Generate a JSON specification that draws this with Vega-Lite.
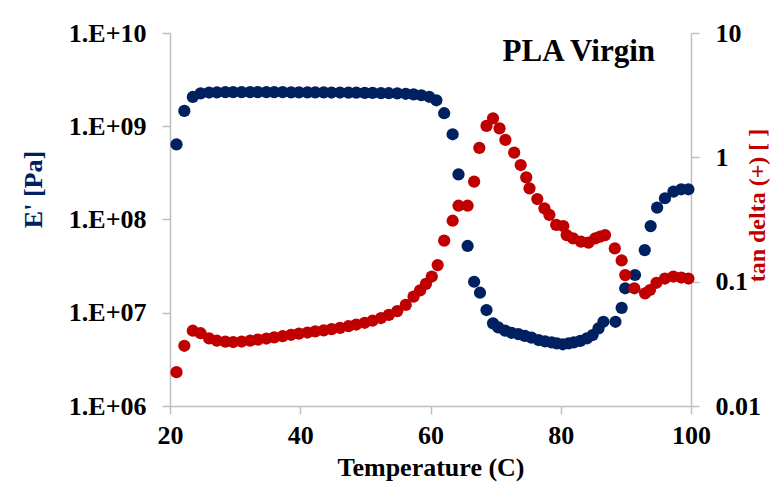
{
  "$schema": "https://vega.github.io/schema/vega-lite/v6.json",
  "autosize": {"type": "none"},
  "padding": {"left": 170, "top": 33, "right": 79, "bottom": 80},
  "width": 521,
  "height": 373,
  "background": "white",
  "title": {"text": "PLA Virgin", "anchor": "end", "frame": "group", "orient": "top", "offset": -48, "dx": -36, "font": "Liberation Serif", "fontSize": 31, "fontWeight": "bold", "color": "black"},
  "datasets": {
    "E": [
      {"T": 21.0, "E": 6.4e8}, {"T": 22.2, "E": 1.46e9}, {"T": 23.5, "E": 2.06e9}, {"T": 24.7, "E": 2.25e9},
      {"T": 26.0, "E": 2.30e9}, {"T": 27.2, "E": 2.31e9}, {"T": 28.5, "E": 2.32e9}, {"T": 29.7, "E": 2.32e9},
      {"T": 31.0, "E": 2.32e9}, {"T": 32.3, "E": 2.32e9}, {"T": 33.5, "E": 2.32e9}, {"T": 34.8, "E": 2.32e9},
      {"T": 36.0, "E": 2.32e9}, {"T": 37.3, "E": 2.32e9}, {"T": 38.6, "E": 2.31e9}, {"T": 39.8, "E": 2.31e9},
      {"T": 41.1, "E": 2.31e9}, {"T": 42.3, "E": 2.31e9}, {"T": 43.6, "E": 2.31e9}, {"T": 44.8, "E": 2.30e9},
      {"T": 46.1, "E": 2.30e9}, {"T": 47.4, "E": 2.29e9}, {"T": 48.6, "E": 2.29e9}, {"T": 49.9, "E": 2.28e9},
      {"T": 51.1, "E": 2.28e9}, {"T": 52.4, "E": 2.27e9}, {"T": 53.6, "E": 2.26e9}, {"T": 54.9, "E": 2.25e9},
      {"T": 56.2, "E": 2.23e9}, {"T": 57.4, "E": 2.20e9}, {"T": 58.6, "E": 2.15e9}, {"T": 59.8, "E": 2.07e9},
      {"T": 60.9, "E": 1.90e9}, {"T": 62.1, "E": 1.38e9}, {"T": 63.4, "E": 8.2e8}, {"T": 64.3, "E": 3.05e8},
      {"T": 65.7, "E": 5.2e7}, {"T": 66.7, "E": 2.15e7}, {"T": 67.6, "E": 1.64e7}, {"T": 68.6, "E": 1.07e7},
      {"T": 69.6, "E": 7.7e6}, {"T": 70.4, "E": 6.98e6}, {"T": 71.45, "E": 6.43e6}, {"T": 72.45, "E": 6.1e6},
      {"T": 73.5, "E": 5.9e6}, {"T": 74.5, "E": 5.64e6}, {"T": 75.5, "E": 5.41e6}, {"T": 76.6, "E": 5.1e6},
      {"T": 77.6, "E": 4.94e6}, {"T": 78.6, "E": 4.82e6}, {"T": 79.4, "E": 4.7e6}, {"T": 80.3, "E": 4.59e6},
      {"T": 81.2, "E": 4.7e6}, {"T": 82.0, "E": 4.82e6}, {"T": 83.0, "E": 5.0e6}, {"T": 84.0, "E": 5.32e6},
      {"T": 84.9, "E": 5.77e6}, {"T": 85.8, "E": 6.8e6}, {"T": 86.55, "E": 8.0e6}, {"T": 88.4, "E": 8.0e6},
      {"T": 89.35, "E": 1.13e7}, {"T": 89.9, "E": 1.83e7}, {"T": 91.4, "E": 2.54e7}, {"T": 92.9, "E": 4.7e7},
      {"T": 93.8, "E": 8.5e7}, {"T": 94.8, "E": 1.34e8}, {"T": 96.0, "E": 1.69e8}, {"T": 97.3, "E": 1.99e8},
      {"T": 98.5, "E": 2.11e8}, {"T": 99.6, "E": 2.11e8}
    ],
    "tan": [
      {"T": 21.0, "tan": 0.0187}, {"T": 22.2, "tan": 0.0305}, {"T": 23.5, "tan": 0.0403}, {"T": 24.7, "tan": 0.0385},
      {"T": 26.0, "tan": 0.0350}, {"T": 27.2, "tan": 0.0335}, {"T": 28.5, "tan": 0.0329}, {"T": 29.7, "tan": 0.0327},
      {"T": 31.0, "tan": 0.0330}, {"T": 32.3, "tan": 0.0335}, {"T": 33.5, "tan": 0.0342}, {"T": 34.8, "tan": 0.0349},
      {"T": 36.0, "tan": 0.0356}, {"T": 37.3, "tan": 0.0364}, {"T": 38.6, "tan": 0.0374}, {"T": 39.8, "tan": 0.0382},
      {"T": 41.1, "tan": 0.0390}, {"T": 42.3, "tan": 0.0398}, {"T": 43.6, "tan": 0.0406}, {"T": 44.8, "tan": 0.0415},
      {"T": 46.1, "tan": 0.0425}, {"T": 47.4, "tan": 0.0438}, {"T": 48.6, "tan": 0.0452}, {"T": 49.9, "tan": 0.0467},
      {"T": 51.1, "tan": 0.0485}, {"T": 52.4, "tan": 0.0510}, {"T": 53.6, "tan": 0.0540}, {"T": 54.9, "tan": 0.0580},
      {"T": 56.2, "tan": 0.0650}, {"T": 57.4, "tan": 0.0757}, {"T": 58.4, "tan": 0.0850}, {"T": 59.3, "tan": 0.0960},
      {"T": 60.2, "tan": 0.110}, {"T": 61.1, "tan": 0.136}, {"T": 62.1, "tan": 0.214}, {"T": 63.4, "tan": 0.309},
      {"T": 64.3, "tan": 0.408}, {"T": 65.7, "tan": 0.408}, {"T": 66.7, "tan": 0.637}, {"T": 67.5, "tan": 1.19},
      {"T": 68.6, "tan": 1.79}, {"T": 69.6, "tan": 2.06}, {"T": 70.6, "tan": 1.71}, {"T": 71.5, "tan": 1.38},
      {"T": 72.85, "tan": 1.09}, {"T": 73.85, "tan": 0.867}, {"T": 74.7, "tan": 0.69}, {"T": 75.2, "tan": 0.563},
      {"T": 76.4, "tan": 0.462}, {"T": 77.5, "tan": 0.389}, {"T": 78.25, "tan": 0.344}, {"T": 79.3, "tan": 0.286},
      {"T": 80.4, "tan": 0.28}, {"T": 80.9, "tan": 0.237}, {"T": 81.9, "tan": 0.223}, {"T": 83.1, "tan": 0.210},
      {"T": 84.25, "tan": 0.206}, {"T": 85.3, "tan": 0.223}, {"T": 86.05, "tan": 0.230}, {"T": 86.8, "tan": 0.237},
      {"T": 88.3, "tan": 0.185}, {"T": 89.35, "tan": 0.148}, {"T": 89.9, "tan": 0.113}, {"T": 91.3, "tan": 0.0885},
      {"T": 92.95, "tan": 0.0806}, {"T": 93.7, "tan": 0.0857}, {"T": 94.7, "tan": 0.098}, {"T": 96.0, "tan": 0.106},
      {"T": 97.3, "tan": 0.110}, {"T": 98.5, "tan": 0.108}, {"T": 99.6, "tan": 0.106}
    ]
  },
  "layer": [
    {
      "data": {"name": "E"},
      "mark": {"type": "point", "filled": true, "shape": "circle", "size": 150, "color": "#002060", "opacity": 1},
      "encoding": {
        "x": {"field": "T", "type": "quantitative", "scale": {"domain": [20, 100], "nice": false},
          "axis": {"values": [20, 40, 60, 80, 100], "labelFlush": false, "title": "Temperature (C)", "labelPadding": 8, "titlePadding": 6, "titleColor": "black"}},
        "y": {"field": "E", "type": "quantitative", "scale": {"type": "log", "domain": [1e6, 1e10], "nice": false},
          "axis": {"values": [1e6, 1e7, 1e8, 1e9, 1e10], "labelFlush": false, "labelExpr": "'1.E+' + (datum.value < 5e9 ? '0' : '') + format(log(datum.value)/LN10, '.0f')", "labelPadding": 16, "title": "E' [Pa]", "titleColor": "#002060", "titleAngle": 270, "titleX": -137, "titleY": 156, "titleAlign": "center", "titleBaseline": "middle"}}
      }
    },
    {
      "data": {"name": "tan"},
      "mark": {"type": "point", "filled": true, "shape": "circle", "size": 150, "color": "#C00000", "opacity": 1},
      "encoding": {
        "x": {"field": "T", "type": "quantitative"},
        "y": {"field": "tan", "type": "quantitative", "scale": {"type": "log", "domain": [0.01, 10], "nice": false},
          "axis": {"orient": "right", "values": [0.01, 0.1, 1, 10], "labelFlush": false, "format": "~g", "labelPadding": 16, "title": "tan  delta (+) [ ]", "titleColor": "#C00000", "titleFontSize": 24, "titleAngle": 270, "titleX": 66, "titleY": 172, "titleAlign": "center", "titleBaseline": "middle"}}
      }
    }
  ],
  "resolve": {"scale": {"y": "independent"}},
  "config": {
    "view": {"stroke": null},
    "axis": {"grid": false, "domainColor": "#BFBFBF", "tickColor": "#BFBFBF", "domainWidth": 1.5, "tickWidth": 1.5, "tickSize": 8,
      "labelFont": "Liberation Serif", "labelFontSize": 26, "labelFontWeight": "bold", "labelColor": "black",
      "titleFont": "Liberation Serif", "titleFontSize": 26, "titleFontWeight": "bold"}
  }
}
